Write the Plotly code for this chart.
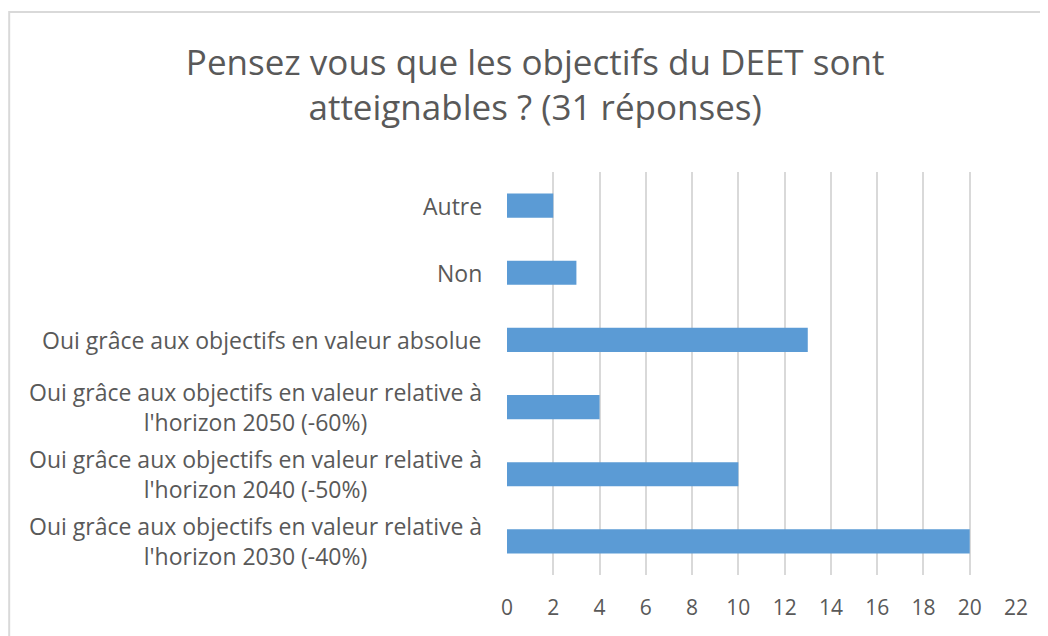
import plotly.graph_objects as go

categories = [
    "Oui grâce aux objectifs en valeur relative à<br>l'horizon 2030 (-40%)",
    "Oui grâce aux objectifs en valeur relative à<br>l'horizon 2040 (-50%)",
    "Oui grâce aux objectifs en valeur relative à<br>l'horizon 2050 (-60%)",
    "Oui grâce aux objectifs en valeur absolue",
    "Non",
    "Autre",
]
values = [20, 10, 4, 13, 3, 2]
x_ticks = list(range(0, 23, 2))

FONT = "Open Sans"
GREY = "#595959"

fig = go.Figure()
fig.add_trace(go.Bar(x=values, y=categories, orientation="h",
                     marker=dict(color="#5B9BD5", line=dict(width=0))))

# category labels: centred multi-line text like Excel
for cat in categories:
    fig.add_annotation(x=-0.046, y=cat, xref="paper", yref="y", text=cat,
                       showarrow=False, xanchor="right", align="center",
                       font=dict(family=FONT, size=23, color=GREY))

# chart frame
fig.add_shape(type="rect", xref="paper", yref="paper",
              x0=-0.978, x1=1.2, y0=-0.5, y1=1.397,
              line=dict(color="#D9D9D9", width=2))

fig.update_layout(
    width=1048, height=636,
    margin=dict(l=499, r=40, t=164, b=69),
    paper_bgcolor="white", plot_bgcolor="white",
    bargap=0.64, showlegend=False,
    title=dict(text="Pensez vous que les objectifs du DEET sont<br>atteignables ? (31 réponses)",
               x=0.503, xanchor="center", y=0.895, yanchor="middle", yref="container",
               font=dict(family=FONT, size=35, color=GREY)),
    font=dict(family=FONT, color=GREY),
)
fig.update_xaxes(range=[0, 22], tickvals=x_ticks, showgrid=True, gridcolor="#D9D9D9",
                 gridwidth=1.5, zeroline=False, showline=False, ticks="",
                 tickfont=dict(family=FONT, size=21, color=GREY), ticklabelstandoff=18)
fig.update_yaxes(showticklabels=False, showgrid=False, zeroline=False, showline=False)

fig.write_html("out.html")
